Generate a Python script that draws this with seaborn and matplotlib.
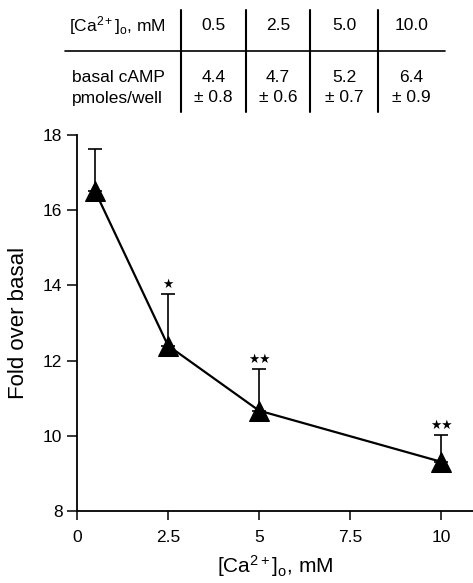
import matplotlib
matplotlib.use("Agg")
import matplotlib.pyplot as plt
import seaborn as sns
import pandas as pd
from matplotlib.lines import Line2D

sns.set_style("ticks")
plt.rcParams['font.family'] = ['Liberation Sans', 'DejaVu Sans']
plt.rcParams['mathtext.fontset'] = 'custom'
plt.rcParams['mathtext.rm'] = 'Liberation Sans'
plt.rcParams['mathtext.it'] = 'Liberation Sans'
for k in ['text.color', 'axes.labelcolor', 'xtick.color', 'ytick.color', 'axes.edgecolor']:
    plt.rcParams[k] = 'black'

# dados do gráfico
ca_conc = [0.5, 2.5, 5, 10]
fold = [16.5, 12.4, 10.67, 9.31]
fold_sem = [1.13, 1.37, 1.1, 0.7]
signif = ["", "\u2605", "\u2605\u2605", "\u2605\u2605"]

# dados da tabela
tab_conc = ["0.5", "2.5", "5.0", "10.0"]
basal_mean = ["4.4", "4.7", "5.2", "6.4"]
basal_sem = ["0.8", "0.6", "0.7", "0.9"]

df = pd.DataFrame({"Ca": ca_conc, "Fold": fold})
W, H = 473, 583

fig = plt.figure(figsize=(4.73, 5.83), dpi=100)
ax = fig.add_axes([77 / W, 1 - 511 / H, (W - 77) / W, (511 - 135) / H])

ax.errorbar(ca_conc, fold, yerr=[[0] * len(fold), fold_sem], fmt='none',
            ecolor='black', elinewidth=1.2, capsize=5, capthick=1.2, zorder=2)
sns.lineplot(data=df, x="Ca", y="Fold", marker="^", markersize=14, color="black",
             linewidth=1.6, markeredgecolor="black", ax=ax, zorder=3)

for x, y, e, s in zip(ca_conc, fold, fold_sem, signif):
    if s:
        ax.annotate(s, (x, y + e), xytext=(0, 2.5), textcoords="offset points",
                    ha="center", va="bottom", fontsize=9, family="DejaVu Sans")

ax.set_xlim(0, 10.88)
ax.set_ylim(8, 18)
ax.set_xticks([0, 2.5, 5, 7.5, 10])
ax.set_xticklabels(["0", "2.5", "5", "7.5", "10"])
ax.set_yticks([8, 10, 12, 14, 16, 18])
ax.tick_params(axis='y', length=7.5, width=1.1, pad=3, labelsize=12.5)
ax.tick_params(axis='x', length=6.5, width=1.1, pad=7, labelsize=12.5)
for sp in ["top", "right"]:
    ax.spines[sp].set_visible(False)
for sp in ["left", "bottom"]:
    ax.spines[sp].set_linewidth(1.3)
ax.set_xlabel(r"[Ca$^{2+}$]$_{\rm o}$, mM", fontsize=15, labelpad=6)
ax.set_ylabel("Fold over basal", fontsize=16, labelpad=10)

# tabela no topo
def fx(px):
    return px / W

def fy(py):
    return 1 - py / H

fig.add_artist(Line2D([fx(65), fx(445)], [fy(51), fy(51)], color="black", lw=1.2))
col_lines = [181, 246, 310, 378, 445]
for px in col_lines[:-1]:
    fig.add_artist(Line2D([fx(px), fx(px)], [fy(10), fy(112)], color="black", lw=1.5))

fs = 12.5
fig.text(fx(69), fy(26), r"[Ca$^{2+}$]$_{\rm o}$, mM", fontsize=fs, va="center", ha="left")
fig.text(fx(72), fy(77), "basal cAMP", fontsize=fs, va="center", ha="left")
fig.text(fx(72), fy(98), "pmoles/well", fontsize=fs, va="center", ha="left")
for i in range(len(tab_conc)):
    cx = (col_lines[i] + col_lines[i + 1]) / 2
    fig.text(fx(cx), fy(26), tab_conc[i], fontsize=fs, va="center", ha="center")
    fig.text(fx(cx), fy(77), basal_mean[i], fontsize=fs, va="center", ha="center")
    fig.text(fx(cx), fy(98), "\u00b1 " + basal_sem[i], fontsize=fs, va="center", ha="center")

fig.savefig("out.png", dpi=100)
